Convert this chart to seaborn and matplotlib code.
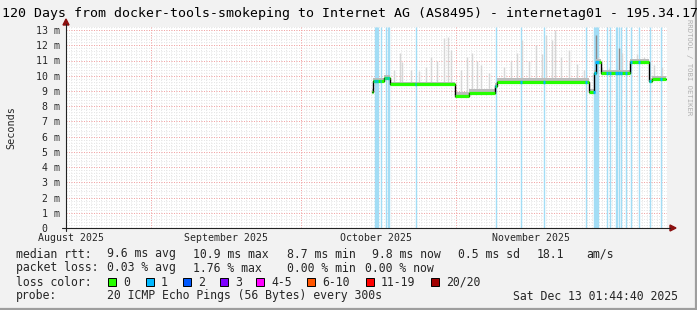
import numpy as np
import pandas as pd
import matplotlib
matplotlib.use("Agg")
import matplotlib.pyplot as plt
import seaborn as sns
from matplotlib.patches import Rectangle, Polygon
from matplotlib.lines import Line2D

sns.set_theme(style="white")
plt.rcParams['font.family'] = ['DejaVu Sans Mono', 'DejaVu Sans']

# ---------------- data (days since start of the 120-day window, values in ms) ----------------
seg_start = [61.1, 61.3, 63.4, 64.6, 77.6, 80.4, 85.6, 86.0, 104.4, 105.5, 105.8, 106.8, 112.6, 116.4, 117.0]
seg_end = [61.3, 63.4, 64.6, 77.6, 80.4, 85.6, 86.0, 104.4, 105.5, 105.8, 106.8, 112.6, 116.4, 117.0, 119.8]
seg_median = [8.95, 9.67, 9.85, 9.43, 8.67, 8.89, 9.30, 9.62, 8.95, 10.20, 10.90, 10.18, 10.92, 9.65, 9.78]
seg_smoke_lo = [8.85, 9.57, 9.75, 9.33, 8.57, 8.79, 9.20, 9.52, 8.85, 10.08, 10.80, 10.08, 10.82, 9.55, 9.68]
seg_smoke_hi = [9.10, 9.85, 10.05, 9.62, 8.90, 9.12, 9.50, 9.82, 9.15, 10.40, 11.10, 10.40, 11.10, 9.85, 9.98]

spike_days = [65.5, 66.7, 67.1, 68.8, 70.5, 71.8, 72.8, 74.1, 75.5, 76.3, 76.9, 78.8, 80.1, 81.1,
              82.1, 82.8, 84.5, 87.5, 88.8, 90.1, 91.1, 92.5, 93.8, 95.1, 95.8, 97.1, 97.6, 98.8,
              100.5, 102.1, 103.5, 106.3, 107.1, 108.5, 111.1, 114.1, 115.5, 117.5, 119.1]
spike_top = [10.37, 11.47, 10.90, 10.37, 10.30, 10.60, 11.25, 11.00, 12.45, 12.57, 11.70, 10.40, 11.25, 11.50,
             11.00, 10.70, 10.20, 10.60, 11.00, 11.50, 12.35, 11.00, 12.05, 11.40, 12.67, 12.35, 12.99, 11.25,
             11.70, 10.80, 10.40, 11.20, 10.60, 10.50, 11.50, 11.40, 11.25, 10.70, 10.60]
dark_spike_days = [105.8, 110.5]
dark_spike_top = [12.70, 11.80]

loss_days = [61.6, 61.8, 62.0, 62.2, 62.8, 63.8, 64.2, 64.4, 69.8, 85.8, 90.8, 95.4, 103.8,
             105.4, 105.6, 105.8, 106.0, 106.2, 108.0, 108.6, 109.8, 110.0, 110.4, 110.8,
             111.8, 112.8, 114.4, 116.6, 118.8]

month_lines = [16.93, 46.93, 77.93, 107.93]
month_label_days = [0.93, 31.93, 61.93, 92.93]
month_labels = ["August 2025", "September 2025", "October 2025", "November 2025"]
y_ticks = list(range(0, 14))
y_labels = ["0  "] + [f"{v} m" for v in range(1, 14)]

loss_legend = ["0", "1", "2", "3", "4-5", "6-10", "11-19", "20/20"]
loss_colors = ["#26ff00", "#00b8ff", "#0059ff", "#7e00ff", "#ff00ff", "#ff5500", "#ff0000", "#a10000"]

# ---------------- figure ----------------
W, H = 697, 310
fig = plt.figure(figsize=(W / 100, H / 100), dpi=100, facecolor="#f2f2f2")


def fx(x):
    return x / W


def fy(y):
    return 1 - y / H


ax = fig.add_axes([fx(66), fy(228), (667 - 66) / W, (228 - 27) / H])
ax.set_xlim(0, 120)
ax.set_ylim(0, 13.2)
ax.set_facecolor("white")
for s in ax.spines.values():
    s.set_visible(False)

# grid
px = 0.72
minor_y = np.arange(0, 13.21, 0.2)
ax.hlines(minor_y, 0, 120, colors="#e6e6e6", lw=px, linestyles=(0, (1, 1.5)), zorder=0)
ax.vlines(np.arange(0.93, 120, 1.0), 0, 13.2, colors="#e6e6e6", lw=px, linestyles=(0, (1, 1.5)), zorder=0)
ax.hlines(y_ticks[1:], 0, 120, colors="#f5a5a5", lw=px, linestyles=(0, (1, 1.5)), zorder=0.5)
ax.vlines(month_lines, 0, 13.2, colors="#f5a5a5", lw=px, linestyles=(0, (1, 1.5)), zorder=0.5)

# loss bars
ax.vlines(loss_days, 0, 13.2, colors="#a3ddf5", lw=1.0, zorder=1)


def med_at(d):
    for a, b, v in zip(seg_start, seg_end, seg_median):
        if a <= d < b:
            return v
    return seg_median[-1]


# smoke spikes
ax.vlines(spike_days, [med_at(d) for d in spike_days], spike_top, colors="#d6d6d6", lw=1.0, zorder=2)
ax.vlines(dark_spike_days, [med_at(d) for d in dark_spike_days], dark_spike_top, colors="#8a8a8a", lw=1.0, zorder=2)

# smoke band
for a, b, lo, hi in zip(seg_start, seg_end, seg_smoke_lo, seg_smoke_hi):
    ax.fill_between([a, b], [lo, lo], [hi, hi], color="#bcbcbc", lw=0, zorder=3)

# median: black step + colored segments
df = pd.DataFrame({"day": seg_start + [seg_end[-1]], "ms": seg_median + [seg_median[-1]]})
sns.lineplot(data=df, x="day", y="ms", drawstyle="steps-post", color="black", lw=1.0,
             estimator=None, ax=ax, zorder=4)
ax.hlines(seg_median, seg_start, seg_end, colors=loss_colors[0], lw=2.3, zorder=5)
ax.hlines([med_at(d) for d in loss_days], np.array(loss_days) - 0.15, np.array(loss_days) + 0.15,
          colors=loss_colors[1], lw=2.3, zorder=6)

# ticks
ax.set_xlabel("")
ax.set_ylabel("")
ax.set_xticks(month_label_days)
ax.set_xticklabels(month_labels, fontsize=7.1)
ax.set_yticks(y_ticks)
ax.set_yticklabels(y_labels, fontsize=7.1)
ax.tick_params(axis="both", length=0)
ax.tick_params(axis="x", pad=3.6)
ax.tick_params(axis="y", pad=4.2)

# axis lines + arrows (drawn in figure pixel coords)
fig.add_artist(Line2D([fx(66), fx(66)], [fy(231), fy(24)], color="#222222", lw=0.8))
fig.add_artist(Line2D([fx(62), fx(670)], [fy(228), fy(228)], color="#222222", lw=0.8))
fig.add_artist(Polygon([[fx(66), fy(19)], [fx(63), fy(25)], [fx(69), fy(25)]], closed=True,
                       color="#8b1010", transform=fig.transFigure))
fig.add_artist(Polygon([[fx(676), fy(228)], [fx(670), fy(225)], [fx(670), fy(231)]], closed=True,
                       color="#8b1010", transform=fig.transFigure))

# title & labels
fig.text(fx(2), fy(14), "120 Days from docker-tools-smokeping to Internet AG (AS8495) - internetag01 - 195.34.17",
         fontsize=9.5, va="center", ha="left", color="black")
fig.text(fx(11), fy(128), "Seconds", rotation=90, fontsize=7.3, va="center", ha="center")
fig.text(fx(689), fy(19), "RRDTOOL / TOBI OETIKER", rotation=270, fontsize=5.2, va="top", ha="center",
         color="#b0b0b0")

fs = 8.3
rows = [254, 268, 282, 296]
fig.text(fx(16), fy(rows[0]), "median rtt:", fontsize=fs, va="center")
for x, t in [(107, "9.6 ms avg"), (193, "10.9 ms max"), (287, "8.7 ms min"), (372, "9.8 ms now"),
             (458, "0.5 ms sd"), (537, "18.1"), (586, "am/s")]:
    fig.text(fx(x), fy(rows[0]), t, fontsize=fs, va="center")
fig.text(fx(16), fy(rows[1]), "packet loss:", fontsize=fs, va="center")
for x, t in [(107, "0.03 % avg"), (193, "1.76 % max"), (287, "0.00 % min"), (365, "0.00 % now")]:
    fig.text(fx(x), fy(rows[1]), t, fontsize=fs, va="center")
fig.text(fx(16), fy(rows[2]), "loss color:", fontsize=fs, va="center")
for x, t, c in zip([108, 145.7, 182.7, 220, 256, 307.3, 365.7, 430.7], loss_legend, loss_colors):
    fig.add_artist(Rectangle((fx(x), fy(rows[2] + 4)), 8 / W, 8 / H, facecolor=c, edgecolor="black",
                             lw=0.7, transform=fig.transFigure))
    fig.text(fx(x + 15), fy(rows[2]), t, fontsize=fs, va="center")
fig.text(fx(16), fy(rows[3]), "probe:", fontsize=fs, va="center")
fig.text(fx(107), fy(rows[3]), "20 ICMP Echo Pings (56 Bytes) every 300s", fontsize=fs, va="center")
fig.text(fx(513), fy(rows[3]), "Sat Dec 13 01:44:40 2025", fontsize=fs, va="center")

# frame shading
fig.add_artist(Line2D([0, 1], [fy(309), fy(309)], color="#9e9e9e", lw=1.6))
fig.add_artist(Line2D([fx(696), fx(696)], [0, 1], color="#9e9e9e", lw=1.6))

fig.savefig("out.png", dpi=100, facecolor=fig.get_facecolor())
